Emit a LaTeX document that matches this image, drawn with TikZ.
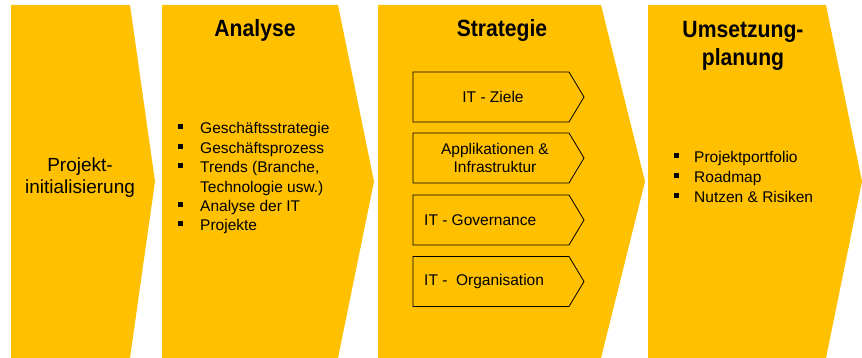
\documentclass[tikz,border=0pt]{standalone}
\usepackage{fontspec}
\setmainfont{Liberation Sans}
\newfontfamily\titlefont[FakeStretch=0.9]{Liberation Sans}
\definecolor{gold}{RGB}{255,192,0}

\begin{document}
\begin{tikzpicture}[x=1pt, y=1pt,
    phase/.style={fill=gold},
    subphase/.style={fill=gold, draw=black, line width=0.8pt, line join=miter},
    title/.style={font=\titlefont\fontsize{23.5}{28}\selectfont\bfseries, align=center, anchor=base},
    boxtext/.style={font=\fontsize{15.5}{18.5}\selectfont, inner sep=0pt},
    item/.style={font=\fontsize{15.5}{19}\selectfont, anchor=base west, inner sep=0pt}]

                \useasboundingbox (0,0) rectangle (862,358);
                % phases
                \foreach \l/\r/\t in {11/130/155, 162/338/374, 378/601/645, 648/826/862}
                    \fill [phase] (\l,0) -- (\l,353) -- (\r,353) -- (\t,176.5) -- (\r,0) -- cycle;
                % strategy steps
                \foreach \y in {261,200,138,76.5}
                    \draw [subphase] (413,\y-25) -- (413,\y+25) -- (569,\y+25) -- (584,\y) -- (569,\y-25) -- cycle;
                \node [font=\fontsize{19}{22}\selectfont, align=center] (init) at (80,180) {Projekt-\\initialisierung};
                \node [title] (analyse) at (255,321) {Analyse};
                \node [title] (strategie) at (502,321) {Strategie};
                \node [title] (umsetzung) at (743,292) {Umsetzung-\\planung};
                \node [boxtext] (ziele) at (493,261) {IT - Ziele};
                \node [boxtext, align=center] (appl) at (495,200) {Applikationen \&\\Infrastruktur};
                \node [boxtext, anchor=west] (gov) at (424,138) {IT - Governance};
                \node [boxtext, anchor=west] (orga) at (424,76.5) {IT -~ Organisation};
                % bullet lists
                \foreach \b/\txt [count=\i] in {1/Geschäftsstrategie, 1/Geschäftsprozess, 1/{Trends (Branche,}, 0/{Technologie usw.)}, 1/Analyse der IT, 1/Projekte}{
                    \node [item] (ana\i) at (200,{243.4-19.4*\i}) {\txt};
                    \ifnum\b=1 \fill (178,{248-19.4*\i}) rectangle ++(5,5); \fi
                }
                \foreach \txt [count=\i] in {Projektportfolio, Roadmap, Nutzen \& Risiken}{
                    \node [item] (ums\i) at (694,{215-20*\i}) {\txt};
                    \fill (674,{219.6-20*\i}) rectangle ++(5,5);
                }
            \end{tikzpicture}
\end{document}
